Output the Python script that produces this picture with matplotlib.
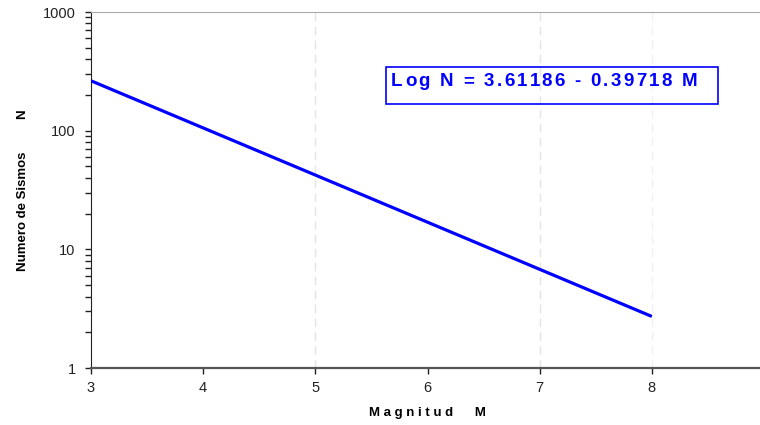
import numpy as np
import matplotlib.pyplot as plt
from matplotlib.patches import Rectangle
from matplotlib.ticker import LogLocator, NullFormatter
from matplotlib.font_manager import FontProperties

plt.rcParams['font.family'] = ['Liberation Sans', 'DejaVu Sans']

# Gutenberg-Richter relation: log N = a - b M
a_coef = 3.61186
b_coef = 0.39718
magnitudes = [3, 8]
counts = [10 ** (a_coef - b_coef * m) for m in magnitudes]

x_ticks = [3, 4, 5, 6, 7, 8, 9]
y_ticks = [1, 10, 100, 1000]
y_tick_labels = ['1', '10', '100', '1000']
equation = 'Log N = 3.61186 - 0.39718 M'

W, H = 760, 425
fig = plt.figure(figsize=(W / 100, H / 100), dpi=100)
ax = fig.add_axes([91 / W, 57 / H, 673 / W, 356 / H])

ax.set_xlim(3, 9)
ax.set_yscale('log')
ax.set_ylim(1, 1000)

# faint dashed vertical guides
for gx, gc in [(5, '#e4e4e4'), (7, '#e4e4e4'), (8, '#f0f0f0')]:
    ax.axvline(gx, color=gc, lw=1.0, ls=(0, (6, 4)), zorder=0)

ax.plot(magnitudes, counts, color='#0000ff', lw=2.3, solid_capstyle='butt', zorder=3)

ax.set_xticks(x_ticks)
ax.set_xticklabels([str(t) for t in x_ticks])
ax.set_yticks(y_ticks)
ax.set_yticklabels(y_tick_labels)
ax.yaxis.set_minor_locator(LogLocator(base=10, subs=np.arange(2, 10)))
ax.yaxis.set_minor_formatter(NullFormatter())

ax.tick_params(axis='both', which='major', direction='out', length=4, width=1,
               labelsize=10.5, colors='#222222', pad=7)
ax.tick_params(axis='y', which='minor', direction='out', length=4, width=1, colors='#222222')
ax.tick_params(axis='x', which='major', length=4, pad=5)

ax.spines['left'].set_color('#222222')
ax.spines['bottom'].set_color('#555555')
ax.spines['bottom'].set_linewidth(1.6)
ax.spines['top'].set_color('#aaaaaa')
ax.spines['right'].set_visible(False)

ax.set_xlabel('M a g n i t u d      M', fontsize=9.5, fontweight='bold', labelpad=9)
ax.set_ylabel('Numero de Sismos         N', fontsize=9.5, fontweight='bold', labelpad=10)


def spaced_text(x_px, y_px, s, prop, spacing_px, **kw):
    """Draw a string with extra tracking between characters (figure pixels)."""
    renderer = fig.canvas.get_renderer()
    bar_w = renderer.get_text_width_height_descent('|', prop, ismath=False)[0]
    for i, ch in enumerate(s):
        if ch == ' ':
            continue
        adv = renderer.get_text_width_height_descent(s[:i] + '|', prop, ismath=False)[0] - bar_w
        if i == 0:
            adv = 0
        fig.text((x_px + adv + i * spacing_px) / W, 1 - y_px / H, ch,
                 fontproperties=prop, ha='left', va='baseline', **kw)


# equation box
fig.patches.append(Rectangle((386 / W, 1 - 104 / H), 332 / W, 37 / H,
                             transform=fig.transFigure, fill=False,
                             edgecolor='#0000ff', lw=1.2))
eq_prop = FontProperties(family=['Liberation Sans', 'DejaVu Sans'], weight='bold', size=13.5)
spaced_text(391, 86, equation, eq_prop, 2.3, color='#0000ff')

fig.savefig('out.png', dpi=100)
